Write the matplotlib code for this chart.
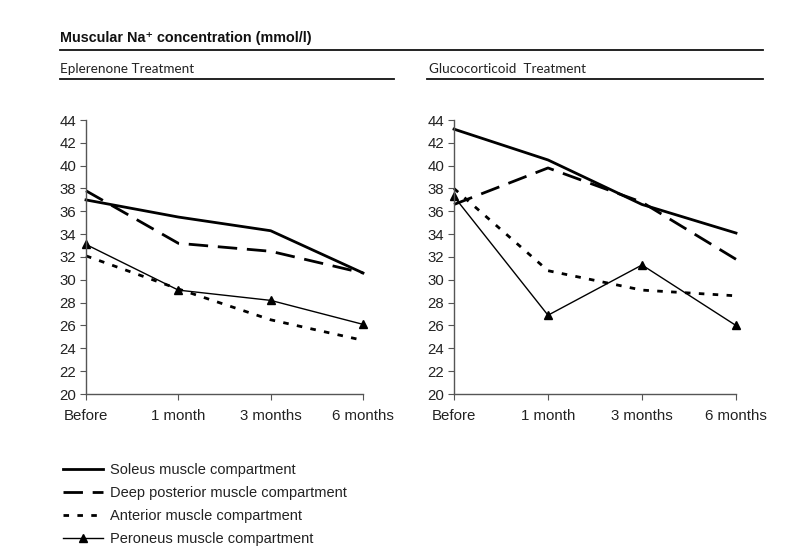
import matplotlib.pyplot as plt
from matplotlib.lines import Line2D

# Dados (mmol/l)
tempos = ['Before', '1 month', '3 months', '6 months']

eple_soleus = [37.0, 35.5, 34.3, 30.6]
eple_deep = [37.8, 33.2, 32.5, 30.6]
eple_anterior = [32.1, 29.2, 26.5, 24.7]
eple_peroneus = [33.1, 29.1, 28.2, 26.1]

gluco_soleus = [43.2, 40.5, 36.6, 34.1]
gluco_deep = [36.6, 39.8, 36.8, 31.8]
gluco_anterior = [38.0, 30.8, 29.1, 28.6]
gluco_peroneus = [37.3, 26.9, 31.3, 26.0]

legendas = ['Soleus muscle compartment', 'Deep posterior muscle compartment',
            'Anterior muscle compartment', 'Peroneus muscle compartment']

plt.rcParams['font.family'] = ['Liberation Sans', 'DejaVu Sans']

W, H = 787, 555
fig = plt.figure(figsize=(W / 100, H / 100), dpi=100)

estilos = [
    dict(color='black', lw=2.0, ls='-'),
    dict(color='black', lw=2.0, ls=(0, (7, 3.5))),
    dict(color='black', lw=2.0, ls=(0, (2, 3))),
    dict(color='black', lw=1.0, ls='-', marker='^', ms=6),
]


def painel(rect, series):
    ax = fig.add_axes(rect)
    x = range(len(tempos))
    for s, st in zip(series, estilos):
        ax.plot(x, s, **st)
    ax.set_xlim(0, 3)
    ax.set_ylim(20, 44)
    ax.set_yticks(range(20, 45, 2))
    ax.set_xticks(list(x))
    ax.set_xticklabels(tempos)
    for sp in ['top', 'right']:
        ax.spines[sp].set_visible(False)
    for sp in ['left', 'bottom']:
        ax.spines[sp].set_color('#555555')
        ax.spines[sp].set_linewidth(1.0)
    ax.tick_params(colors='#555555', labelcolor='#222222', labelsize=10.8, length=4)
    ax.tick_params(axis='y', pad=3)
    ax.tick_params(axis='x', pad=7)
    for ln in ax.lines:
        ln.set_clip_on(False)
    return ax


def fx(px):
    return px / W


def fy(py):
    return 1 - py / H


ax1 = painel([fx(86), fy(394), fx(363 - 86), (394 - 120) / H],
             [eple_soleus, eple_deep, eple_anterior, eple_peroneus])
ax2 = painel([fx(454), fy(394), fx(736 - 454), (394 - 120) / H],
             [gluco_soleus, gluco_deep, gluco_anterior, gluco_peroneus])

# Titulos e linhas separadoras
fig.text(fx(60), fy(38), 'Muscular Na\u207a concentration (mmol/l)', fontsize=10.4,
         fontweight='bold', va='center', ha='left', color='#111111')
fig.add_artist(Line2D([fx(60), fx(763)], [fy(50), fy(50)], color='#111111', lw=1.3))

fig.text(fx(60), fy(69), 'Eplerenone Treatment', fontsize=9.7, family='Lato',
         va='center', ha='left', color='#222222')
fig.add_artist(Line2D([fx(60), fx(394)], [fy(79), fy(79)], color='#111111', lw=1.3))

fig.text(fx(429), fy(69), 'Glucocorticoid  Treatment', fontsize=9.7, family='Lato',
         va='center', ha='left', color='#222222')
fig.add_artist(Line2D([fx(427), fx(763)], [fy(79), fy(79)], color='#111111', lw=1.3))

# Legenda
handles = [Line2D([], [], **st) for st in estilos]
fig.legend(handles, legendas, loc='upper left', bbox_to_anchor=(fx(57), fy(457)),
           frameon=False, fontsize=10.5, handlelength=2.75, handletextpad=0.48,
           labelspacing=0.63, labelcolor='#222222', borderaxespad=0)

fig.savefig('out.png', dpi=100)
